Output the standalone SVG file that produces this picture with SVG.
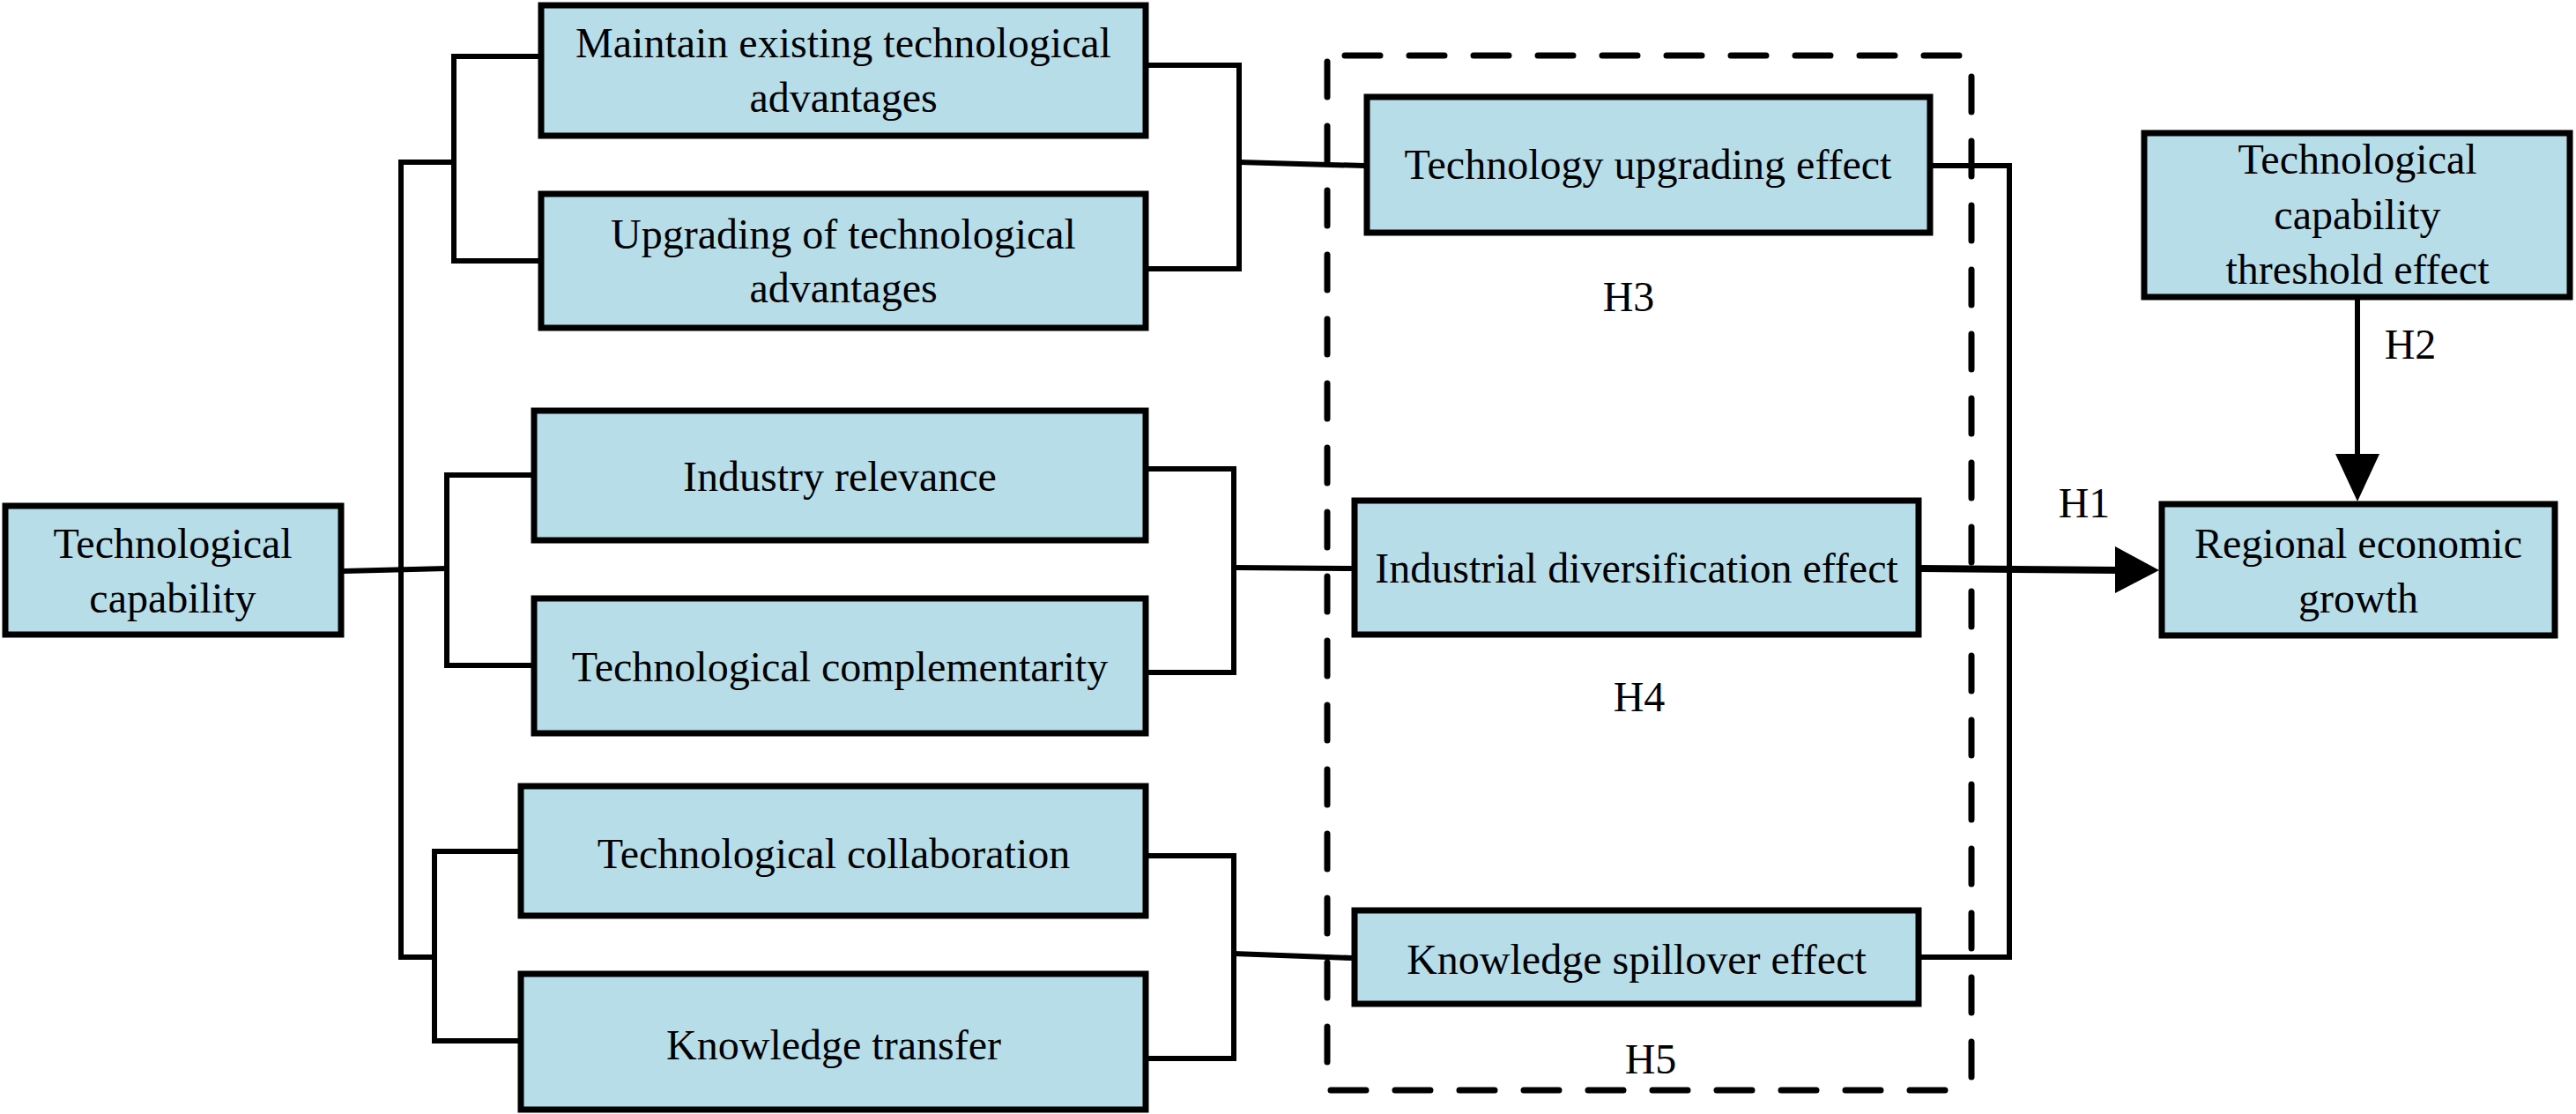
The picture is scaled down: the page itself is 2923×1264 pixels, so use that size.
<svg xmlns="http://www.w3.org/2000/svg" width="2923" height="1264" viewBox="0 0 2923 1264">
<style>
.box{fill:#b7dde8;stroke:#000;stroke-width:7}
.t{font-family:"Liberation Serif","Times New Roman",serif;font-size:48px;fill:#000;text-anchor:middle}
.c{fill:none;stroke:#000;stroke-width:6}
.d{fill:none;stroke:#000;stroke-width:7;stroke-linecap:round;stroke-dasharray:40 33}
</style>
<rect width="2923" height="1264" fill="#fff"/>
<g id="connectors">
<line class="d" x1="1526" y1="63" x2="2234" y2="63"/>
<line class="d" x1="1506" y1="70" x2="1506" y2="1235"/>
<line class="d" x1="2237" y1="87" x2="2237" y2="1235"/>
<line class="d" x1="1510" y1="1237" x2="2212" y2="1237"/>
<polyline class="c" points="390,648 507,645"/>
<polyline class="c" points="515,184 455,184 455,1086 493,1086"/>
<polyline class="c" points="611,64 515,64 515,296 611,296"/>
<polyline class="c" points="603,539 507,539 507,755 603,755"/>
<polyline class="c" points="588,966 493,966 493,1181 588,1181"/>
<polyline class="c" points="1303,74 1406,74 1406,305 1303,305"/>
<polyline class="c" points="1406,184 1548,188"/>
<polyline class="c" points="1303,532 1400,532 1400,763 1303,763"/>
<polyline class="c" points="1400,644 1534,645"/>
<polyline class="c" points="1303,971 1400,971 1400,1201 1303,1201"/>
<polyline class="c" points="1400,1082 1534,1087"/>
<polyline class="c" points="2193,188 2280,188 2280,1086 2180,1086"/>
<polyline class="c" points="2180,645 2405,647" style="stroke-width:8"/>
<polygon points="2400,620 2450,647 2400,673" fill="#000"/>
<line class="c" x1="2675" y1="340" x2="2675" y2="520"/>
<polygon points="2650,515 2700,515 2675,569" fill="#000"/>
</g>
<g id="tech-capability"><rect class="box" x="6" y="574" width="381" height="146"/><text class="t" x="196" y="633">Technological</text><text class="t" x="196" y="695">capability</text></g>
<g id="maintain"><rect class="box" x="614" y="6" width="686" height="148"/><text class="t" x="957" y="65">Maintain existing technological</text><text class="t" x="957" y="127">advantages</text></g>
<g id="upgrading"><rect class="box" x="614" y="220" width="686" height="152"/><text class="t" x="957" y="282">Upgrading of technological</text><text class="t" x="957" y="343">advantages</text></g>
<g id="industry-relevance"><rect class="box" x="606" y="466" width="694" height="147"/><text class="t" x="953" y="557">Industry relevance</text></g>
<g id="tech-complementarity"><rect class="box" x="606" y="679" width="694" height="153"/><text class="t" x="953" y="773">Technological complementarity</text></g>
<g id="tech-collaboration"><rect class="box" x="591" y="892" width="709" height="147"/><text class="t" x="946" y="985">Technological collaboration</text></g>
<g id="knowledge-transfer"><rect class="box" x="591" y="1105" width="709" height="154"/><text class="t" x="946" y="1202">Knowledge transfer</text></g>
<g id="tech-upgrading-effect"><rect class="box" x="1551" y="110" width="639" height="154"/><text class="t" x="1870" y="203">Technology upgrading effect</text></g>
<g id="industrial-diversification"><rect class="box" x="1537" y="568" width="640" height="152"/><text class="t" x="1857" y="661">Industrial diversification effect</text></g>
<g id="knowledge-spillover"><rect class="box" x="1537" y="1033" width="640" height="106"/><text class="t" x="1857" y="1105">Knowledge spillover effect</text></g>
<g id="threshold"><rect class="box" x="2433" y="151" width="483" height="186"/><text class="t" x="2675" y="197">Technological</text><text class="t" x="2675" y="260">capability</text><text class="t" x="2675" y="322">threshold effect</text></g>
<g id="regional-growth"><rect class="box" x="2453" y="572" width="446" height="149"/><text class="t" x="2676" y="633">Regional economic</text><text class="t" x="2676" y="695">growth</text></g>
<g id="labels">
<text class="t" x="2365" y="587">H1</text>
<text class="t" x="2735" y="407">H2</text>
<text class="t" x="1848" y="353">H3</text>
<text class="t" x="1860" y="807">H4</text>
<text class="t" x="1873" y="1218">H5</text>
</g>
</svg>
